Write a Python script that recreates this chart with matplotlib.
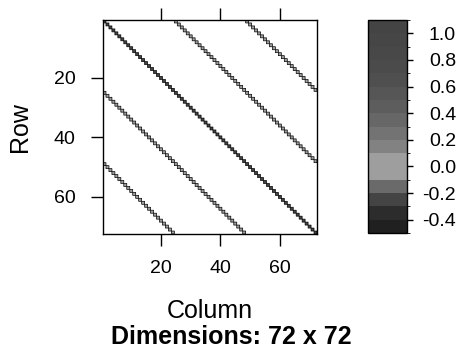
import numpy as np
import matplotlib
matplotlib.use("Agg")
import matplotlib.pyplot as plt
from matplotlib.colors import ListedColormap, BoundaryNorm

# --- data: sparse 72 x 72 banded matrix ---
n_rows = 72
n_cols = 72
band_offsets = [-48, -24, 0, 24, 48]          # column - row
band_values = [0.05, 0.05, 1.0, 0.05, 0.05]

# colour key: 16 levels from -0.5 to 1.1
key_levels = [-0.5, -0.4, -0.3, -0.2, -0.1, 0.0, 0.1, 0.2, 0.3,
              0.4, 0.5, 0.6, 0.7, 0.8, 0.9, 1.0, 1.1]
key_colors = ["#202020", "#2c2c2c", "#444444", "#6a6a6a", "#9e9e9e",
              "#9e9e9e", "#828282", "#737373", "#676767", "#5d5d5d",
              "#565656", "#4f4f4f", "#4b4b4b", "#484848", "#464646",
              "#444444"]
key_ticks = [-0.4, -0.2, 0.0, 0.2, 0.4, 0.6, 0.8, 1.0]
axis_ticks = [20, 40, 60]

# --- build matrix (NaN = structural zero) ---
mat = np.full((n_rows, n_cols), np.nan)
for off, val in zip(band_offsets, band_values):
    for i in range(n_rows):
        j = i + off
        if 0 <= j < n_cols:
            mat[i, j] = val
mat = np.ma.masked_invalid(mat)

plt.rcParams["font.family"] = ["Liberation Sans", "DejaVu Sans"]

fig = plt.figure(figsize=(4.63, 3.56), dpi=100)
ax = fig.add_axes([103 / 463, 1 - 234 / 356, 214 / 463, 214 / 356])

cmap = ListedColormap(key_colors)
norm = BoundaryNorm(key_levels, cmap.N)

xe = np.arange(n_cols + 1) + 0.5
ye = np.arange(n_rows + 1) + 0.5
mesh = ax.pcolor(xe, ye, mat, cmap=cmap, norm=norm,
                 edgecolors="black", linewidths=0.5)
ax.set_xlim(0.5, n_cols + 0.5)
ax.set_ylim(n_rows + 0.5, 0.5)

ax.set_xticks(axis_ticks)
ax.set_yticks(axis_ticks)
ax.tick_params(axis="x", direction="out", length=8.6, width=1.0,
               top=True, labeltop=False, labelsize=14, pad=10)
ax.tick_params(axis="y", direction="out", length=8.6, width=1.0,
               right=False, labelsize=14, pad=11)
for sp in ax.spines.values():
    sp.set_linewidth(1.0)

# colour key (labels right-aligned)
cax = fig.add_axes([368 / 463, 1 - 233 / 356, 39 / 463, 213 / 356])
cb = fig.colorbar(mesh, cax=cax, boundaries=key_levels, ticks=key_ticks)
cb.ax.tick_params(direction="out", length=4.3, width=1.0, labelsize=14, pad=31)
cb.ax.set_yticklabels([f"{t:.1f}" for t in key_ticks])
for lab in cb.ax.get_yticklabels():
    lab.set_horizontalalignment("right")
cb.outline.set_linewidth(1.0)

fig.text(20 / 463, 1 - 127 / 356, "Row", rotation=90, ha="center",
         va="center", fontsize=18)
fig.text(210 / 463, 1 - 311 / 356, "Column", ha="center", va="center",
         fontsize=18)
fig.text(231.5 / 463, 1 - 337 / 356, "Dimensions: 72 x 72", ha="center",
         va="center", fontsize=18, fontweight="bold")

fig.savefig("out.png", dpi=100)
